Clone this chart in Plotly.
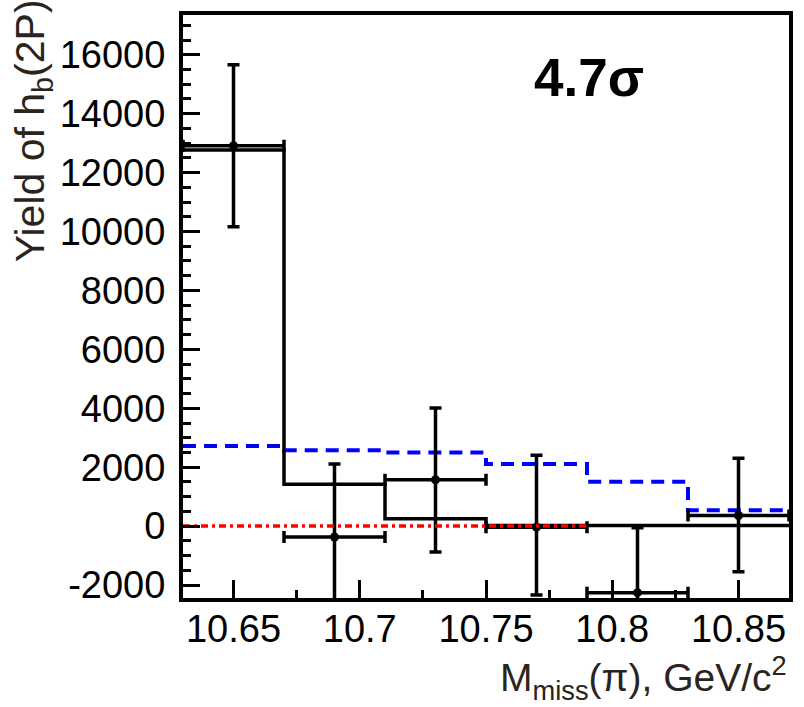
import plotly.graph_objects as go

# ---- data ----
bin_edges = [10.63, 10.67, 10.71, 10.75, 10.79, 10.83, 10.87]
fit_yield = [12770, 1420, 250, 20, 20, 20]          # black solid histogram
expected_yield = [2720, 2575, 2495, 2110, 1505, 540]  # blue dashed histogram
point_x = [10.65, 10.69, 10.73, 10.77, 10.81, 10.85]
point_y = [12910, -370, 1575, -35, -2258, 360]
err_up = [2750, 2475, 2437, 2440, 2205, 1945]
err_down = [2750, 2475, 2450, 2300, 2205, 1910]
err_x = [0.02, 0.02, 0.02, 0.02, 0.02, 0.02]
zero_x = [10.63, 10.79]
zero_y = [0, 0]

x_tickvals = [10.65, 10.70, 10.75, 10.80, 10.85]
x_ticktext = ["10.65", "10.7", "10.75", "10.8", "10.85"]
y_tickvals = [-2000, 0, 2000, 4000, 6000, 8000, 10000, 12000, 14000, 16000]
y_ticktext = ["-2000", "0", "2000", "4000", "6000", "8000", "10000", "12000", "14000", "16000"]

FONT = "Liberation Sans, Arial, sans-serif"

fig = go.Figure()

fig.add_trace(go.Scatter(
    x=bin_edges, y=expected_yield + [expected_yield[-1]],
    mode="lines", line=dict(shape="hv", color="#0000ff", width=4, dash="13px,8px"),
    showlegend=False, hoverinfo="skip"))

fig.add_trace(go.Scatter(
    x=bin_edges, y=fit_yield + [fit_yield[-1]],
    mode="lines", line=dict(shape="hv", color="black", width=3.5),
    showlegend=False, hoverinfo="skip"))

fig.add_trace(go.Scatter(
    x=point_x, y=point_y, mode="markers",
    marker=dict(color="black", size=9),
    error_y=dict(type="data", array=err_up, arrayminus=err_down, symmetric=False,
                 color="black", thickness=3.5, width=6),
    error_x=dict(type="data", array=err_x, color="black", thickness=3.5, width=6),
    showlegend=False))

fig.add_trace(go.Scatter(
    x=zero_x, y=zero_y, mode="lines",
    line=dict(color="#ff0000", width=3.5, dash="7px,4px,3px,4px"),
    showlegend=False, hoverinfo="skip"))

axis_common = dict(
    showgrid=False, zeroline=False, showline=True, linecolor="black", linewidth=4,
    mirror=True, ticks="inside", tickcolor="black", tickwidth=3,
    tickfont=dict(family=FONT, size=38, color="black"),
)

fig.update_xaxes(
    range=[10.63, 10.87], tickvals=x_tickvals, ticktext=x_ticktext, ticklen=18,
    minor=dict(dtick=0.025, tick0=10.65, ticklen=8, tickwidth=3, ticks="inside", tickcolor="black"),
    ticklabelstandoff=-6,
    **axis_common)
fig.update_yaxes(
    range=[-2440, 17350], tickvals=y_tickvals, ticktext=y_ticktext, ticklen=17,
    minor=dict(dtick=500, tick0=0, ticklen=8, tickwidth=3, ticks="inside", tickcolor="black"),
    ticklabelstandoff=6,
    **axis_common)

fig.add_annotation(
    text="<b>4.7σ</b>", x=0.670, y=0.893, xref="paper", yref="paper",
    xanchor="center", yanchor="middle",
    showarrow=False, font=dict(family=FONT, size=53, color="black"))

fig.add_annotation(
    text="Yield of h<sub>b</sub>(2P)", textangle=-90,
    x=-0.247, y=1.03, xref="paper", yref="paper", xanchor="center", yanchor="top",
    showarrow=False, font=dict(family=FONT, size=41, color="#2a2420"))

fig.add_annotation(
    text="M<sub>miss</sub>(π), GeV/c<sup>2</sup>",
    x=1.0, y=-0.138, xref="paper", yref="paper", xanchor="right", yanchor="middle",
    showarrow=False, font=dict(family=FONT, size=39, color="#2a2420"))

fig.update_layout(
    width=804, height=707,
    margin=dict(l=183, r=13, t=11, b=109),
    plot_bgcolor="white", paper_bgcolor="white",
)

fig.write_html("out.html")
